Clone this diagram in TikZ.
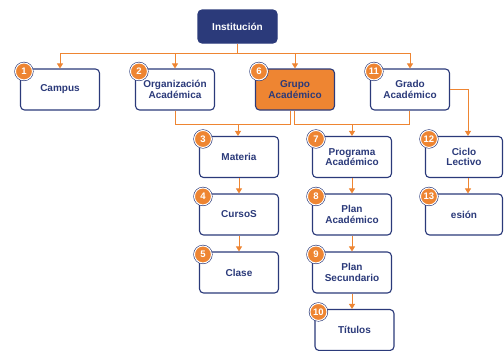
\documentclass[tikz,border=0pt]{standalone}
\usepackage{fontspec}
\setmainfont{Liberation Sans}
\usetikzlibrary{arrows.meta}
\definecolor{navy}{HTML}{2B3A7A}
\definecolor{orng}{HTML}{EE8532}
\begin{document}
\begin{tikzpicture}[x=1pt,y=-1pt,
 box/.style={draw=navy, line width=1.1pt, rounded corners=4pt, fill=white, minimum width=79pt, minimum height=41pt, align=center, text=navy, font=\fontsize{10}{10.5}\selectfont\bfseries, inner sep=0pt},
 topbox/.style={box, fill=navy, text=white, minimum height=33pt},
 hibox/.style={box, fill=orng},
 badge/.style={circle, fill=orng, draw=white, line width=1pt, preaction={draw=navy, line width=2.2pt}, minimum size=17pt, inner sep=0pt, text=white, font=\fontsize{9.5}{10}\selectfont\bfseries},
 conn/.style={draw=orng, line width=0.9pt},
 arr/.style={conn, -{Triangle[length=5pt,width=6pt]}}]
\useasboundingbox (0,0) rectangle (504,351);
% boxes
\node[topbox] (inst) at (237.5,26.5) {Institución};
\node[box] (campus) at (60,89.5) {Campus};
\node[box] (org) at (175,89.5) {Organización\\Académica};
\node[hibox] (grupo) at (295,89.5) {Grupo\\Académico};
\node[box] (grado) at (410,89.5) {Grado\\Académico};
\node[box] (materia) at (239,157) {Materia};
\node[box] (programa) at (352,157) {Programa\\Académico};
\node[box, minimum width=77pt] (ciclo) at (464,157) {Ciclo\\Lectivo};
\node[box] (cursos) at (239,214.5) {CursoS};
\node[box] (planac) at (352,214.5) {Plan\\Académico};
\node[box, minimum width=77pt] (sesion) at (464,214.5) {esión};
\node[box] (clase) at (239,272.5) {Clase};
\node[box] (plansec) at (352,272.5) {Plan\\Secundario};
\node[box] (titulos) at (354.5,330) {Títulos};
% coordinates
\coordinate (hb) at (237.5,53);
\coordinate (j1) at (0,124);
\coordinate (gc) at (468,0);
% connectors
\draw[conn] (inst.south) -- (inst.south |- hb);
\draw[conn] (campus.north |- hb) -- (grado.north |- hb);
\draw[arr] (campus.north |- hb) -- (campus.north);
\draw[arr] (org.north |- hb) -- (org.north);
\draw[arr] (grupo.north |- hb) -- (grupo.north);
\draw[arr] (grado.north |- hb) -- (grado.north);
\draw[conn] (org.south) -- (org.south |- j1) -- ([xshift=-5pt]grupo.south |- j1) -- ([xshift=-5pt]grupo.south);
\draw[conn] ([xshift=-1pt]grupo.south) -- ([xshift=-1pt]grupo.south |- j1) -- ([xshift=-1pt]grado.south |- j1) -- ([xshift=-1pt]grado.south);
\draw[arr] ([xshift=-1pt]materia.north |- j1) -- ([xshift=-1pt]materia.north);
\draw[arr] (programa.north |- j1) -- (programa.north);
\draw[arr] (grado.east) -- (grado.east -| gc) -- (gc |- ciclo.north);
\draw[arr] (materia.south) -- (cursos.north);
\draw[arr] (cursos.south) -- (clase.north);
\draw[arr] (programa.south) -- (planac.north);
\draw[arr] (planac.south) -- (plansec.north);
\draw[arr] (plansec.south) -- (plansec.south |- titulos.north);
\draw[arr] ([xshift=4pt]ciclo.south) -- ([xshift=4pt]sesion.north);
% badges
\node[badge] (b1) at ([shift={(4,3)}]campus.north west) {1};
\node[badge] (b2) at ([shift={(4,3)}]org.north west) {2};
\node[badge] (b3) at ([shift={(4,3)}]materia.north west) {3};
\node[badge] (b4) at ([shift={(4,3)}]cursos.north west) {4};
\node[badge] (b5) at ([shift={(4,3)}]clase.north west) {5};
\node[badge] (b6) at ([shift={(4,3)}]grupo.north west) {6};
\node[badge] (b7) at ([shift={(4,3)}]programa.north west) {7};
\node[badge] (b8) at ([shift={(4,3)}]planac.north west) {8};
\node[badge] (b9) at ([shift={(4,3)}]plansec.north west) {9};
\node[badge] (b10) at ([shift={(4,3)}]titulos.north west) {10};
\node[badge] (b11) at ([shift={(4,3)}]grado.north west) {11};
\node[badge] (b12) at ([shift={(4,3)}]ciclo.north west) {12};
\node[badge] (b13) at ([shift={(4,3)}]sesion.north west) {13};
\end{tikzpicture}
\end{document}
